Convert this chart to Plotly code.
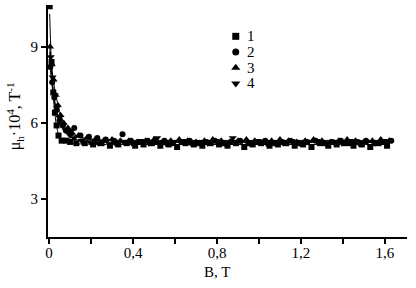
import plotly.graph_objects as go

# ---- data ----
x1 = [0.003, 0.012, 0.02, 0.028, 0.036, 0.045, 0.06, 0.08, 0.1, 0.13, 0.17, 0.21, 0.25, 0.29, 0.33, 0.37, 0.41, 0.45,
      0.49, 0.53, 0.57, 0.61, 0.65, 0.69, 0.73, 0.77, 0.81, 0.85, 0.89, 0.93, 0.97, 1.01, 1.05, 1.09, 1.13,
      1.17, 1.21, 1.25, 1.29, 1.33, 1.37, 1.41, 1.45, 1.49, 1.53, 1.57, 1.61]
y1 = [10.6, 8.4, 7.2, 6.4, 5.9, 5.5, 5.3, 5.3, 5.25, 5.2, 5.2, 5.15, 5.2, 5.1, 5.15, 5.2, 5.1, 5.15,
      5.2, 5.1, 5.15, 5.05, 5.2, 5.15, 5.1, 5.2, 5.15, 5.1, 5.2, 5.05, 5.15, 5.2, 5.1, 5.15,
      5.2, 5.1, 5.15, 5.05, 5.2, 5.1, 5.15, 5.2, 5.1, 5.15, 5.05, 5.2, 5.1]

x2 = [0.006, 0.015, 0.025, 0.035, 0.05, 0.065, 0.08, 0.1, 0.12, 0.15, 0.19, 0.23, 0.27, 0.31, 0.35, 0.39, 0.43, 0.47,
      0.51, 0.55, 0.59, 0.63, 0.67, 0.71, 0.75, 0.79, 0.83, 0.87, 0.91, 0.95, 0.99, 1.03, 1.07, 1.11, 1.15,
      1.19, 1.23, 1.27, 1.31, 1.35, 1.39, 1.43, 1.47, 1.51, 1.55, 1.59, 1.63]
y2 = [8.2, 7.6, 7.0, 6.5, 6.1, 5.9, 5.7, 5.65, 5.8, 5.5, 5.45, 5.4, 5.35, 5.3, 5.55, 5.3, 5.25, 5.3,
      5.25, 5.3, 5.2, 5.25, 5.3, 5.2, 5.25, 5.3, 5.2, 5.25, 5.3, 5.2, 5.25, 5.3, 5.2, 5.25, 5.3,
      5.2, 5.25, 5.3, 5.2, 5.25, 5.3, 5.2, 5.25, 5.3, 5.2, 5.25, 5.3]

x3 = [0.005, 0.013, 0.022, 0.032, 0.042, 0.055, 0.07, 0.09, 0.11, 0.14, 0.18, 0.22, 0.26, 0.3, 0.34, 0.38, 0.42, 0.46,
      0.5, 0.54, 0.58, 0.62, 0.66, 0.7, 0.74, 0.78, 0.82, 0.86, 0.9, 0.94, 0.98, 1.02, 1.06, 1.1, 1.14,
      1.18, 1.22, 1.26, 1.3, 1.34, 1.38, 1.42, 1.46, 1.5, 1.54, 1.58, 1.62]
y3 = [9.0, 8.3, 7.7, 7.1, 6.7, 6.3, 6.0, 5.8, 5.6, 5.5, 5.4, 5.35, 5.3, 5.35, 5.3, 5.3, 5.25, 5.3,
      5.35, 5.25, 5.3, 5.35, 5.3, 5.25, 5.3, 5.35, 5.3, 5.25, 5.3, 5.35, 5.3, 5.25, 5.3, 5.35, 5.3,
      5.25, 5.3, 5.35, 5.3, 5.25, 5.3, 5.35, 5.3, 5.25, 5.3, 5.35, 5.3]

x4 = [0.008, 0.017, 0.027, 0.038, 0.05, 0.065, 0.08, 0.1, 0.12, 0.155, 0.195, 0.235, 0.275, 0.315, 0.355, 0.395, 0.435,
      0.475, 0.515, 0.555, 0.595, 0.635, 0.675, 0.715, 0.755, 0.795, 0.835, 0.875, 0.915, 0.955, 0.995, 1.035,
      1.075, 1.115, 1.155, 1.195, 1.235, 1.275, 1.315, 1.355, 1.395, 1.435, 1.475, 1.515, 1.555, 1.595]
y4 = [8.6, 7.8, 7.1, 6.6, 6.2, 5.9, 5.7, 5.5, 5.4, 5.3, 5.25, 5.2, 5.3, 5.2, 5.25, 5.2, 5.3, 5.2,
      5.4, 5.2, 5.25, 5.3, 5.2, 5.25, 5.2, 5.3, 5.2, 5.4, 5.25, 5.2, 5.3, 5.2, 5.25, 5.2, 5.3,
      5.2, 5.25, 5.3, 5.2, 5.25, 5.2, 5.3, 5.2, 5.25, 5.2, 5.3]

# fitted curves
fit_x = [0.003, 0.01, 0.02, 0.03, 0.04, 0.05, 0.06, 0.08, 0.1, 0.12, 0.15, 0.2, 0.25, 0.3, 0.4, 0.6, 0.8, 1.0, 1.2, 1.4, 1.62]
fit1 = [10.3, 8.6, 7.1, 6.2, 5.7, 5.45, 5.33, 5.24, 5.2, 5.18, 5.17, 5.16, 5.15, 5.15, 5.15, 5.15, 5.15, 5.15, 5.15, 5.15, 5.15]
fit2 = [8.4, 7.8, 7.1, 6.6, 6.25, 6.0, 5.85, 5.65, 5.55, 5.48, 5.42, 5.36, 5.32, 5.3, 5.28, 5.26, 5.26, 5.26, 5.26, 5.26, 5.26]
fit3 = [9.0, 8.4, 7.7, 7.2, 6.8, 6.45, 6.2, 5.85, 5.65, 5.52, 5.42, 5.36, 5.33, 5.32, 5.31, 5.31, 5.31, 5.31, 5.31, 5.31, 5.31]
fit4 = [8.8, 8.1, 7.3, 6.75, 6.35, 6.05, 5.85, 5.6, 5.45, 5.37, 5.3, 5.26, 5.24, 5.23, 5.23, 5.23, 5.23, 5.23, 5.23, 5.23, 5.23]

labels = ["1", "2", "3", "4"]
symbols = ["square", "circle", "triangle-up", "triangle-down"]
x_tick_vals = [0, 0.4, 0.8, 1.2, 1.6]
x_tick_text = ["0", "0,4", "0,8", "1,2", "1,6"]
y_ticks = [3, 6, 9]

FONT = "Liberation Serif, Times New Roman, serif"

fig = go.Figure()
for fy in [fit1, fit2, fit3, fit4]:
    fig.add_trace(go.Scatter(x=fit_x, y=fy, mode="lines", showlegend=False,
                             line=dict(color="black", width=1, shape="spline")))

msizes = [6, 6, 7, 7]
for xs, ys, lab, sym, ms in zip([x1, x2, x3, x4], [y1, y2, y3, y4], labels, symbols, msizes):
    fig.add_trace(go.Scatter(x=xs, y=ys, mode="markers", name=lab, showlegend=False,
                             marker=dict(symbol=sym, size=ms, color="black", line=dict(width=0))))

# manual legend on an overlay axis in paper-like units
leg_x = 0.523
leg_text_x = 0.565
leg_y = [0.865, 0.797, 0.73, 0.662]
for i, (lab, sym, ms) in enumerate(zip(labels, symbols, msizes)):
    fig.add_trace(go.Scatter(x=[leg_x], y=[leg_y[i]], xaxis="x2", yaxis="y2", mode="markers",
                             showlegend=False, hoverinfo="skip",
                             marker=dict(symbol=sym, size=ms + 1, color="black", line=dict(width=0))))

annotations = [
    dict(text="B, T", x=0.47, xref="paper", y=-0.152, yref="paper",
         showarrow=False, xanchor="center", yanchor="middle",
         font=dict(family=FONT, size=15)),
    dict(text="μ<sub>h</sub>·10<sup>4</sup>, T<sup>-1</sup>", x=-0.092, xref="paper",
         y=0.52, yref="paper", showarrow=False, textangle=-90,
         xanchor="center", yanchor="middle", font=dict(family=FONT, size=16)),
]
for i, lab in enumerate(labels):
    annotations.append(dict(text=lab, x=leg_text_x, y=leg_y[i], xref="paper", yref="paper",
                            showarrow=False, xanchor="center", yanchor="middle",
                            font=dict(family=FONT, size=15)))

fig.update_layout(
    width=416, height=288,
    margin=dict(l=48, r=9, t=5, b=51),
    plot_bgcolor="white", paper_bgcolor="white",
    font=dict(family=FONT, size=15, color="black"),
    showlegend=False,
    xaxis=dict(range=[-0.005, 1.705], showgrid=False, zeroline=False,
               showline=True, linecolor="black", linewidth=2,
               ticks="outside", ticklen=5, tickwidth=2, tickcolor="black",
               tickvals=x_tick_vals, ticktext=x_tick_text, ticklabelstandoff=-4,
               minor=dict(tick0=0, dtick=0.2, ticks="outside", ticklen=5, tickwidth=2,
                          tickcolor="black", showgrid=False),
               tickfont=dict(family=FONT, size=15)),
    yaxis=dict(range=[1.5, 10.65], showgrid=False, zeroline=False,
               showline=True, linecolor="black", linewidth=2,
               ticks="outside", ticklen=5, tickwidth=2, tickcolor="black",
               tickvals=y_ticks, tickfont=dict(family=FONT, size=15)),
    xaxis2=dict(range=[0, 1], overlaying="x", visible=False, fixedrange=True),
    yaxis2=dict(range=[0, 1], overlaying="y", visible=False, fixedrange=True),
    annotations=annotations,
)

fig.write_html("out.html")
